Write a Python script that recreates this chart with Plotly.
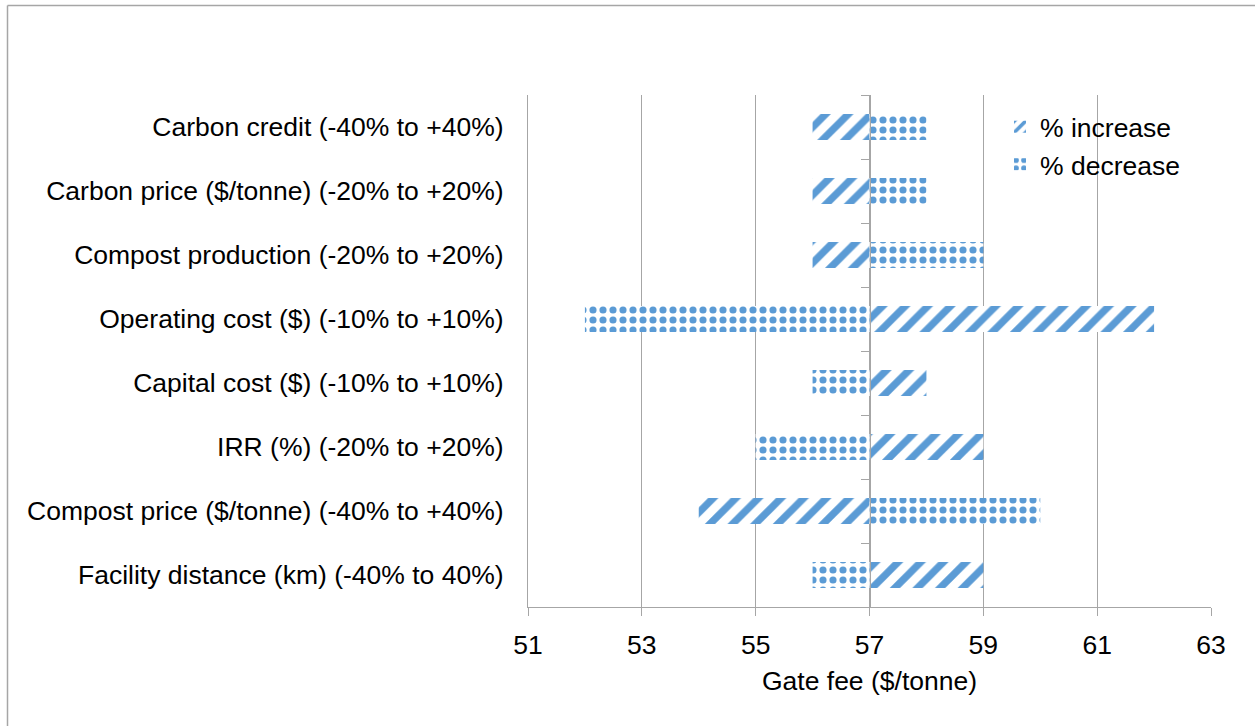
import plotly.graph_objects as go

# Sensitivity of the gate fee to each input parameter
categories = [
    "Facility distance (km) (-40% to 40%)",
    "Compost price ($/tonne) (-40% to +40%)",
    "IRR (%) (-20% to +20%)",
    "Capital cost ($) (-10% to +10%)",
    "Operating cost ($) (-10% to +10%)",
    "Compost production (-20% to +20%)",
    "Carbon price ($/tonne) (-20% to +20%)",
    "Carbon credit (-40% to +40%)",
]
base_fee = 57
fee_increase = [59, 54, 59, 58, 62, 56, 56, 56]
fee_decrease = [56, 60, 55, 56, 52, 59, 58, 58]
x_ticks = [51, 53, 55, 57, 59, 61, 63]

BLUE = "#5B9BD5"
GRID = "#A6A6A6"
FONT = "Liberation Sans, Arial, sans-serif"
FS = 26.5

ypos = list(range(len(categories)))

fig = go.Figure()
fig.add_trace(go.Bar(
    y=ypos, x=[v - base_fee for v in fee_increase], base=base_fee,
    orientation="h", name="% increase", width=0.41,
    marker=dict(color=BLUE, line=dict(width=0),
                pattern=dict(shape="/", size=16, solidity=0.45,
                             fgcolor=BLUE, bgcolor="white", fgopacity=1)),
))
fig.add_trace(go.Bar(
    y=ypos, x=[v - base_fee for v in fee_decrease], base=base_fee,
    orientation="h", name="% decrease", width=0.41,
    marker=dict(color=BLUE, line=dict(width=0),
                pattern=dict(shape=".", size=10, solidity=0.4,
                             fgcolor=BLUE, bgcolor="white", fgopacity=1)),
))
# invisible trace that carries the secondary (crossing) vertical axis
fig.add_trace(go.Scatter(x=[None], y=[None], yaxis="y2", showlegend=False,
                         hoverinfo="skip"))

W, H = 1255, 726
L, R, T, B = 528, 44, 95, 119
pw, ph = W - L - R, H - T - B

fig.update_layout(
    width=W, height=H,
    margin=dict(l=L, r=R, t=T, b=B),
    paper_bgcolor="white", plot_bgcolor="white",
    barmode="overlay",
    font=dict(family=FONT, size=FS, color="black"),
    showlegend=True,
    legend=dict(x=(1000 - L) / pw, y=(607 - 103) / ph, xanchor="left", yanchor="top",
                bgcolor="rgba(0,0,0,0)", font=dict(size=FS), itemwidth=30,
                tracegroupgap=0),
    xaxis=dict(range=[x_ticks[0], x_ticks[-1]], tickvals=x_ticks,
               showgrid=True, gridcolor=GRID, gridwidth=1.3,
               showline=True, linecolor=GRID, linewidth=1.3,
               ticks="outside", ticklen=8, tickcolor=GRID, tickwidth=1.3,
               zeroline=False, tickfont=dict(size=FS), ticklabelstandoff=6,
               title=dict(text="Gate fee ($/tonne)", font=dict(size=FS), standoff=12)),
    yaxis=dict(range=[-0.5, len(categories) - 0.5], tickvals=ypos, ticktext=categories,
               showgrid=False, zeroline=False, ticks="",
               showline=True, linecolor=GRID, linewidth=1.3,
               ticklabelstandoff=18, tickfont=dict(size=FS)),
    yaxis2=dict(range=[-0.5, len(categories) - 0.5], overlaying="y", anchor="free",
                position=(base_fee - x_ticks[0]) / (x_ticks[-1] - x_ticks[0]),
                side="left", showgrid=False, zeroline=False,
                tickvals=[i - 0.5 for i in range(len(categories) + 1)],
                showticklabels=False, ticks="outside", ticklen=8,
                tickcolor=GRID, tickwidth=1.3,
                showline=True, linecolor=GRID, linewidth=1.3),
    shapes=[
        dict(type="line", xref="paper", yref="paper",
             x0=(7.5 - L) / pw, x1=(W + 20 - L) / pw,
             y0=(H - B - 5.5) / ph, y1=(H - B - 5.5) / ph,
             line=dict(color=GRID, width=1.5)),
        dict(type="line", xref="paper", yref="paper",
             x0=(7.5 - L) / pw, x1=(7.5 - L) / pw,
             y0=(H - B - 5.5) / ph, y1=(H - B - H - 20) / ph,
             line=dict(color=GRID, width=1.5)),
    ],
)

fig.write_html("out.html")
